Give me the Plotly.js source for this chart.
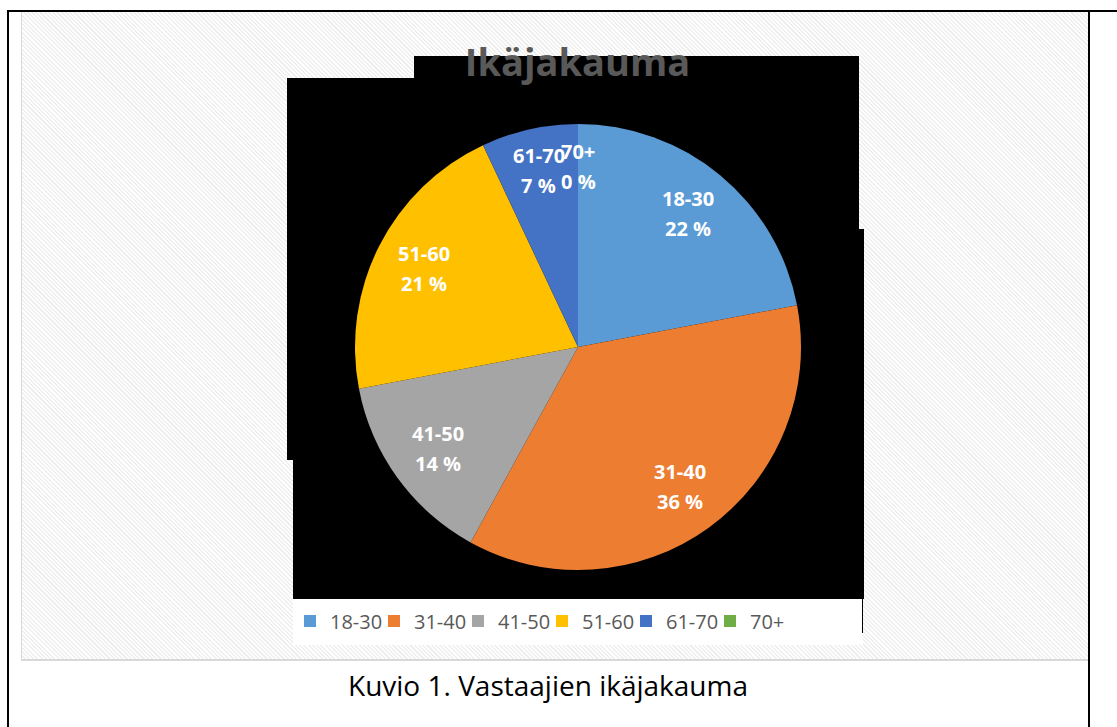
<!DOCTYPE html>
<html>
<head>
<meta charset="utf-8">
<script src="https://cdn.plot.ly/plotly-3.0.1.min.js"></script>
<style>
  html, body { margin: 0; padding: 0; width: 1117px; height: 727px; overflow: hidden; background: #ffffff; }
  #frame { position: absolute; left: 0; top: 0; width: 1117px; height: 727px; }
  .bl { position: absolute; background: #000; }
  #hatch { position: absolute; left: 21px; top: 12px; width: 1067px; height: 647px;
    background: repeating-linear-gradient(45deg, #ffffff 0px, #ffffff 1.5px, #efefef 1.5px, #efefef 3px);
    border-left: 1px solid #d9d9d9; border-bottom: 2px solid #d9d9d9; box-sizing: content-box; }
  #chart { position: absolute; left: 0; top: 0; width: 1117px; height: 727px; }
</style>
</head>
<body>
<div id="frame">
  <div id="hatch"></div>
  <div class="bl" style="left:7px; top:10px; width:2px; height:717px;"></div>
  <div class="bl" style="left:7px; top:10px; width:1110px; height:2px;"></div>
  <div class="bl" style="left:1088px; top:10px; width:2px; height:717px;"></div>
</div>
<div id="chart"></div>
<script>
// ---- data ----
const categories = ["18-30", "31-40", "41-50", "51-60", "61-70", "70+"];
const percentValues = [22, 36, 14, 21, 7, 0];
const sliceColors = ["#5B9BD5", "#ED7D31", "#A5A5A5", "#FFC000", "#4472C4", "#70AD47"];
const chartTitle = "Ikäjakauma";
const captionText = "Kuvio 1. Vastaajien ikäjakauma";

// ---- layout geometry (pixels) ----
const W = 1117, H = 727;
const px = x => x / W;
const py = y => 1 - y / H;
const pieCx = 578, pieCy = 347, pieR = 223;

const pieTrace = {
  type: "pie",
  labels: categories,
  values: percentValues,
  sort: false,
  direction: "clockwise",
  rotation: 0,
  marker: { colors: sliceColors, line: { width: 0 } },
  textinfo: "none",
  hoverinfo: "label+percent",
  domain: { x: [px(pieCx - pieR), px(pieCx + pieR)], y: [py(pieCy + pieR), py(pieCy - pieR)] },
  showlegend: true
};

// data labels placed from the data values (angle of each slice's middle)
const total = percentValues.reduce((a, b) => a + b, 0);
const labelAnns = [];
const labelFont = { family: "Open Sans", size: 20, color: "#ffffff", weight: 700 };
let cum = 0;
percentValues.forEach((v, i) => {
  const mid = (cum + v / 2) / total * 2 * Math.PI;
  cum += v;
  const frac = v / total < 0.1 ? 0.81 : 0.775;
  const r = pieR * frac;
  const x = pieCx + r * Math.sin(mid);
  const y = pieCy - r * Math.cos(mid);
  labelAnns.push({
    xref: "paper", yref: "paper", x: px(x), y: py(y), yshift: 15,
    xanchor: "center", yanchor: "middle", showarrow: false,
    text: categories[i], font: labelFont
  });
  labelAnns.push({
    xref: "paper", yref: "paper", x: px(x), y: py(y), yshift: -15,
    xanchor: "center", yanchor: "middle", showarrow: false,
    text: v + " %", font: labelFont
  });
});

const rect = (x0, y0, x1, y1, color) => ({
  type: "rect", xref: "paper", yref: "paper", layer: "below",
  x0: px(x0), x1: px(x1), y0: py(y1), y1: py(y0),
  fillcolor: color, line: { width: 0 }
});

const shapes = [
  rect(414, 56, 859, 229, "#000000"),
  rect(287, 78, 859, 460, "#000000"),
  rect(293, 229, 864, 599, "#000000"),
  rect(293, 599, 863, 645, "#ffffff"),
  { type: "line", xref: "paper", yref: "paper", layer: "below",
    x0: px(862.5), x1: px(862.5), y0: py(599), y1: py(633), line: { color: "#000000", width: 1 } }
];

const layout = {
  width: W, height: H,
  margin: { l: 0, r: 0, t: 0, b: 0, pad: 0 },
  paper_bgcolor: "rgba(0,0,0,0)",
  plot_bgcolor: "rgba(0,0,0,0)",
  title: {
    text: chartTitle,
    x: px(577.5), xanchor: "center", xref: "paper",
    y: py(63), yanchor: "middle", yref: "paper",
    font: { family: "Open Sans", size: 38, color: "#595959", weight: 700 }
  },
  showlegend: true,
  legend: {
    orientation: "h",
    x: px(290), xanchor: "left",
    y: py(621), yanchor: "middle",
    bgcolor: "rgba(0,0,0,0)",
    font: { family: "Open Sans", size: 20, color: "#595959" },
    entrywidth: 39, entrywidthmode: "pixels",
    itemwidth: 30,
    traceorder: "normal"
  },
  shapes: shapes,
  annotations: labelAnns.concat([{
    xref: "paper", yref: "paper", x: px(547.5), y: py(685),
    xanchor: "center", yanchor: "middle", showarrow: false,
    text: captionText,
    font: { family: "Open Sans", size: 28, color: "#000000" }
  }])
};

Plotly.newPlot("chart", [pieTrace], layout, { displayModeBar: false, staticPlot: true });
</script>
</body>
</html>
